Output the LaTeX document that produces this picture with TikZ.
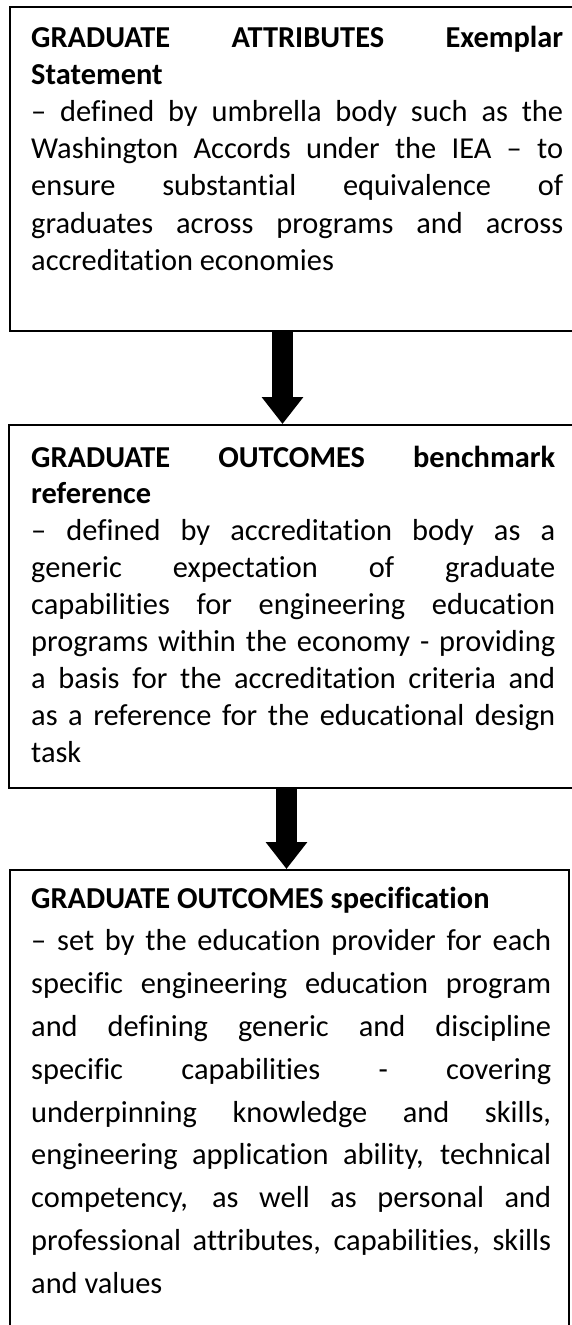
\documentclass[tikz,border=0pt]{standalone}
\usepackage{fontspec}
\setmainfont{Carlito}[Ligatures=NoCommon,RawFeature={-liga;-clig;-calt;-dlig;-hlig}]
\usetikzlibrary{arrows.meta}
\newlength{\lw}
\newcommand{\jl}[1]{\leavevmode\hbox to \lw{\spaceskip=0pt\xspaceskip=0pt #1}\\}
\begin{document}
\begin{tikzpicture}[x=1pt,y=-1pt,
  panel/.style={draw, line width=1.8pt, rectangle, inner sep=0pt, anchor=north west},
  txt/.style={inner sep=0pt, anchor=base west, align=justify},
  bodyA/.style={txt, font=\fontsize{30.4}{37.2}\selectfont},
  bodyB/.style={txt, font=\fontsize{30.4}{36.9}\selectfont},
  bodyC/.style={txt, font=\fontsize{30.4}{42.8}\selectfont},
  bigarrow/.style={line width=21pt, -{Triangle[width=40pt,length=27pt]}}]
\useasboundingbox (0,0) rectangle (572,1325);
\clip (0,0) rectangle (572,1325);
% boxes
\node[panel, minimum width=571pt, minimum height=324pt] (b1) at (9,6) {};
\node[panel, minimum width=572pt, minimum height=363pt] (b2) at (8,424) {};
\node[panel, minimum width=559pt, minimum height=471pt] (b3) at (9,869) {};
% arrow axes
\coordinate (a1) at (282.5,0);
\coordinate (a2) at (286.5,0);
\draw[bigarrow] (b1.south -| a1) -- (b2.north -| a1);
\draw[bigarrow] (b2.south -| a2) -- (b3.north -| a2);
% texts
\node[bodyA, text width=532pt] (t1) at (31,47) {\setlength{\lw}{532pt}%
\jl{\bfseries GRADUATE ATTRIBUTES Exemplar}
\textbf{Statement}\\
\jl{– defined by umbrella body such as the}
\jl{Washington Accords under the IEA – to}
\jl{ensure substantial equivalence of}
\jl{graduates across programs and across}
accreditation economies};
\node[bodyB, text width=524pt] (t2) at (31,467) {\setlength{\lw}{524pt}%
\jl{\bfseries GRADUATE OUTCOMES benchmark}
\textbf{reference}\\
\jl{– defined by accreditation body as a}
\jl{generic expectation of graduate}
\jl{capabilities for engineering education}
\jl{programs within the economy - providing}
\jl{a basis for the accreditation criteria and}
\jl{as a reference for the educational design}
task};
\node[bodyC, text width=520pt] (t3) at (31,908) {\setlength{\lw}{520pt}%
\textbf{GRADUATE OUTCOMES specification}\\
\jl{– set by the education provider for each}
\jl{specific engineering education program}
\jl{and defining generic and discipline}
\jl{specific capabilities - covering}
\jl{underpinning knowledge and skills,}
\jl{engineering application ability, technical}
\jl{competency, as well as personal and}
\jl{professional attributes, capabilities, skills}
and values};
\end{tikzpicture}
\end{document}
